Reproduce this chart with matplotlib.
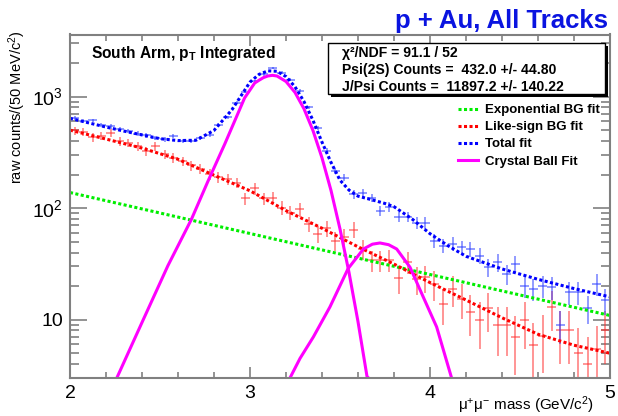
import numpy as np
import matplotlib
matplotlib.use('Agg')
import matplotlib.pyplot as plt
from matplotlib.patches import Rectangle
from matplotlib.ticker import FixedLocator, NullFormatter

plt.rcParams['font.family'] = ['Liberation Sans', 'DejaVu Sans']
plt.rcParams['mathtext.default'] = 'regular'

# 50 MeV bins between 2 and 5 GeV/c^2
mass = np.linspace(2.025, 4.975, 60)
half_bin = 0.025

# opposite-sign (all tracks) counts
opp_counts = [640, 610, 611, 560, 540, 510, 490, 465, 450, 425,
              415, 443, 400, 400, 425, 455, 560, 650, 880, 1100,
              1370, 1580, 1800, 1640, 1420, 1130, 800, 520, 325, 215,
              188, 133, 138, 124, 95, 103, 84, 84, 74, 74,
              51, 46, 48, 44.5, 43, 37.5, 29.5, 32.7, 25.7, 31.6,
              20.2, 18.9, 20.2, 19.5, 9.0, 17.6, 17.6, 12.8, 21.0, 14.9]
opp_err = [25.3, 24.7, 24.7, 23.7, 23.2, 22.6, 22.1, 21.6, 21.2, 20.6,
           20.4, 21.0, 20.0, 20.0, 20.6, 21.3, 23.7, 25.5, 29.7, 33.2,
           37.0, 39.7, 42.4, 40.5, 37.7, 33.6, 28.3, 22.8, 18.0, 14.7,
           13.7, 11.5, 11.7, 11.1, 9.7, 10.1, 9.2, 9.2, 8.6, 8.6,
           7.1, 6.8, 6.9, 6.7, 6.6, 6.1, 5.4, 5.7, 5.1, 5.6,
           4.5, 4.3, 4.5, 4.4, 3.0, 4.2, 4.2, 3.6, 4.6, 3.9]

# like-sign counts
like_counts = [497, 480, 433, 443, 473, 399, 385, 360, 325, 360,
               303, 283, 264, 241, 226, 201, 189, 181, 169, 122,
               150, 122, 124, 101, 91, 98, 72, 59, 66, 51,
               55, 64, 43, 34, 34, 34.5, 23.5, 33, 23, 24,
               21, 13.9, 18.9, 15.4, 11.8, 9.9, 12.6, 8.9, 8.9, 7.0,
               9.9, 5.9, 7.1, 12.9, 8.0, 8.0, 5.0, 4.0, 5.5, 8.0]
like_err = [42, 41, 38, 38, 40, 35, 34, 32, 30, 32,
            28, 27, 26, 24, 23, 21, 20, 20, 19, 16,
            18, 16, 16, 14, 13, 14, 11.5, 10.5, 11, 9.5,
            10, 10.5, 8.5, 7.5, 7.5, 7.5, 6.5, 7.5, 6.5, 6.5,
            6.2, 5.0, 5.8, 5.3, 4.7, 4.4, 4.8, 4.2, 4.2, 3.8,
            4.4, 3.5, 3.8, 5.0, 4.0, 4.0, 3.4, 3.0, 3.3, 4.0]

# fit curves
exp_x = [2.0, 5.0]
exp_y = [138, 10.9]

like_fit_x = [2.0, 2.2, 2.4, 2.6, 2.8, 3.0, 3.2, 3.4, 3.6, 3.8, 4.0, 4.2, 4.4, 4.6, 4.8, 5.0]
like_fit_y = [500, 416, 345, 274, 197, 143, 95, 66, 45, 31.5, 21.5, 15, 10.4, 7.4, 5.9, 5.0]

total_x = [2.0, 2.1, 2.2, 2.3, 2.4, 2.5, 2.6, 2.7, 2.8, 2.9, 3.0, 3.05, 3.1, 3.15, 3.2,
           3.25, 3.3, 3.35, 3.4, 3.45, 3.5, 3.55, 3.6, 3.65, 3.7, 3.75, 3.8, 3.9, 4.0,
           4.1, 4.2, 4.4, 4.6, 4.8, 5.0]
total_y = [638, 583, 533, 490, 453, 419, 403, 406, 497, 763, 1348, 1580, 1700, 1685, 1510,
           1224, 901, 611, 390, 257, 178, 145, 128, 122, 116, 110, 103, 80, 59,
           46, 37, 28.5, 23, 19, 16]

jpsi_x = [2.26, 2.407, 2.544, 2.674, 2.767, 2.859, 2.92, 2.97, 3.026, 3.05, 3.075, 3.10, 3.125,
          3.15, 3.20, 3.25, 3.30, 3.35, 3.40, 3.45, 3.50, 3.55, 3.60, 3.65, 3.667]
jpsi_y = [3.0, 10, 30.5, 79, 175, 373, 631, 972, 1322, 1400, 1480, 1530, 1550,
          1528, 1365, 1089, 776, 495, 282, 144, 65, 26.5, 9.6, 3.1, 2.9]

psi2s_x = [3.222, 3.278, 3.352, 3.444, 3.545, 3.63, 3.68, 3.722, 3.77, 3.815, 3.889, 3.963, 4.037, 4.12]
psi2s_y = [3.0, 4.5, 7.0, 13, 28.7, 43, 47.5, 48.7, 47, 43, 29.5, 15.9, 8.6, 3.0]

stats_lines = ['\u03c7\u00b2/NDF = 91.1 / 52',
               'Psi(2S) Counts =  432.0 +/- 44.80',
               'J/Psi Counts =  11897.2 +/- 140.22']

W, H = 618, 416


def fx(px):
    return px / W


def fy(py):
    return 1 - py / H


fig = plt.figure(figsize=(W / 100, H / 100), dpi=100)
ax = fig.add_axes([fx(70), fy(378), (610 - 70) / W, (378 - 34.5) / H])

dot = (0, (1, 0.8))
ax.errorbar(mass, like_counts, xerr=half_bin, yerr=like_err, fmt='none',
            ecolor='#ff3030', alpha=0.6, elinewidth=1.2, capsize=0)
ax.errorbar(mass, opp_counts, xerr=half_bin, yerr=opp_err, fmt='none',
            ecolor='#2a3cff', alpha=0.6, elinewidth=1.2, capsize=0)
ax.plot(exp_x, exp_y, color='#00ee00', lw=2.2, ls=dot, label='Exponential BG fit')
ax.plot(like_fit_x, like_fit_y, color='#ff0000', lw=2.2, ls=dot, label='Like-sign BG fit')
ax.plot(total_x, total_y, color='#0000ff', lw=2.2, ls=dot, label='Total fit')
ax.plot(jpsi_x, jpsi_y, color='#ff00ff', lw=2.2, label='Crystal Ball Fit')
ax.plot(psi2s_x, psi2s_y, color='#ff00ff', lw=2.2)

ax.set_yscale('log')
ax.set_xlim(2, 5)
ax.set_ylim(3, 3600)

ax.xaxis.set_major_locator(FixedLocator([2, 3, 4, 5]))
ax.xaxis.set_minor_locator(FixedLocator([2.2, 2.4, 2.6, 2.8, 3.2, 3.4, 3.6, 3.8,
                                         4.2, 4.4, 4.6, 4.8]))
ax.set_xticklabels(['2', '3', '4', '5'])
ax.yaxis.set_major_locator(FixedLocator([10, 100, 1000]))
ax.set_yticklabels(['10', '$10^{2}$', '$10^{3}$'])
ax.yaxis.set_minor_locator(FixedLocator([3, 4, 5, 6, 7, 8, 9, 20, 30, 40, 50, 60, 70, 80, 90,
                                         200, 300, 400, 500, 600, 700, 800, 900, 2000, 3000]))
ax.yaxis.set_minor_formatter(NullFormatter())

gray = '#808080'
for s in ax.spines.values():
    s.set_color(gray)
    s.set_linewidth(1.5)
ax.tick_params(axis='both', which='both', direction='in', top=True, right=True,
               color=gray, labelsize=14, width=1.2)
ax.tick_params(axis='x', which='major', length=8, pad=5)
ax.tick_params(axis='x', which='minor', length=4.5)
ax.tick_params(axis='y', which='major', length=12, pad=5)
ax.tick_params(axis='y', which='minor', length=6.5)

leg = ax.legend(loc='upper left', bbox_to_anchor=(fx(458), fy(104)),
                bbox_transform=fig.transFigure, frameon=False,
                prop={'weight': 'bold', 'size': 9.5}, handlelength=1.5,
                handletextpad=0.53, labelspacing=0.37, borderpad=0, borderaxespad=0)

ax.text(fx(91), fy(58), 'South Arm, p$_{T}$ Integrated', transform=fig.transFigure,
        fontsize=11.2, fontweight='bold', ha='left', va='baseline')

# statistics box with shadow
fig.patches.append(Rectangle((fx(331), fy(97)), fx(605) - fx(328), fy(43) - fy(94),
                             transform=fig.transFigure, facecolor='black',
                             edgecolor='none', zorder=5))
fig.patches.append(Rectangle((fx(328), fy(94)), fx(605) - fx(328), fy(43) - fy(94),
                             transform=fig.transFigure, facecolor='white',
                             edgecolor='black', lw=1.0, zorder=6))
for i, line in enumerate(stats_lines):
    fig.text(fx(342), fy(57.5 + 16.8 * i), line, fontsize=10.1, fontweight='bold',
             ha='left', va='baseline', zorder=7)

fig.text(fx(608), fy(28), 'p + Au, All Tracks', color='#0a14e0', fontsize=18.5,
         fontweight='bold', ha='right', va='baseline')
fig.text(fx(17), fy(30), 'raw counts/(50 MeV/c$^{2}$)', rotation=90, fontsize=10.5,
         ha='center', va='top')
fig.text(fx(594), fy(405), '$\\mu^{+}\\mu^{-}$ mass (GeV/c$^{2}$)', fontsize=11,
         ha='right', va='center')

fig.savefig('out.png', dpi=100, facecolor='white')
